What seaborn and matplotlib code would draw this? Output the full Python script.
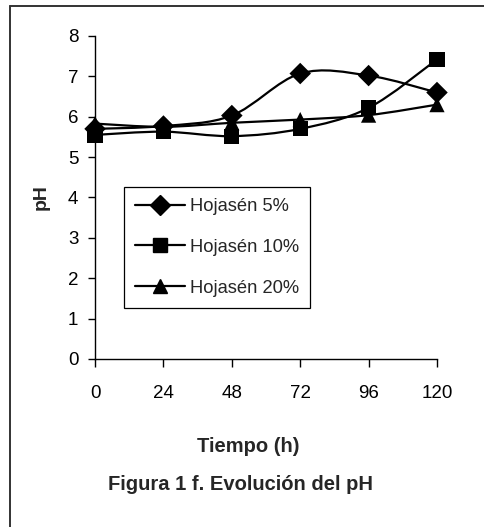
import numpy as np
import pandas as pd
import matplotlib
matplotlib.use("Agg")
import matplotlib.pyplot as plt
from matplotlib.path import Path
from matplotlib.patches import PathPatch
from matplotlib.lines import Line2D
import seaborn as sns

# Sampling times (h) and pH readings for each Hojasén dose
tiempo = [0, 24, 48, 72, 96, 120]
ph_5 = [5.70, 5.77, 6.03, 7.07, 7.02, 6.60]
ph_10 = [5.55, 5.63, 5.52, 5.70, 6.22, 7.42]
ph_20 = [5.83, 5.75, 5.85, 5.93, 6.04, 6.30]
series_names = ["Hojasén 5%", "Hojasén 10%", "Hojasén 20%"]
series_markers = ["D", "s", "^"]
x_ticks = [0, 24, 48, 72, 96, 120]
y_ticks = [0, 1, 2, 3, 4, 5, 6, 7, 8]

df = pd.DataFrame({
    "Tiempo": tiempo * 3,
    "pH": ph_5 + ph_10 + ph_20,
    "Serie": sum([[n] * len(tiempo) for n in series_names], []),
})

sns.set_style("ticks")
plt.rcParams["font.family"] = ["Liberation Sans", "DejaVu Sans"]

fig = plt.figure(figsize=(4.85, 5.27), dpi=100)
ax = fig.add_axes([0.196, 0.3188, 0.705, 0.6129])


def smooth_path(xs, ys):
    """Cubic Bezier path through the points (spreadsheet-style smoothing)."""
    pts = np.column_stack([xs, ys]).astype(float)
    ext = np.vstack([pts[0], pts, pts[-1]])
    verts = [pts[0]]
    codes = [Path.MOVETO]
    for i in range(len(pts) - 1):
        p0, p1, p2, p3 = ext[i], ext[i + 1], ext[i + 2], ext[i + 3]
        c1 = p1 + (p2 - p0) / 6.0
        c2 = p2 - (p3 - p1) / 6.0
        verts += [c1, c2, p2]
        codes += [Path.CURVE4] * 3
    return Path(verts, codes)


for name in series_names:
    sub = df[df["Serie"] == name]
    ax.add_patch(PathPatch(smooth_path(sub["Tiempo"], sub["pH"]),
                           facecolor="none", edgecolor="black", lw=1.6,
                           zorder=2))

sns.scatterplot(data=df, x="Tiempo", y="pH", style="Serie",
                markers=dict(zip(series_names, series_markers)),
                color="black", s=120, edgecolor="black", linewidth=0,
                legend=False, ax=ax, zorder=3, clip_on=False)

ax.set_xlim(0, 120)
ax.set_ylim(0, 8)
ax.set_xticks(x_ticks)
ax.set_yticks(y_ticks)
ax.tick_params(axis="x", direction="out", length=6, width=1, pad=13,
               labelsize=13.5, colors="black")
ax.tick_params(axis="y", direction="out", length=5, width=1, pad=7,
               labelsize=13.5, colors="black")
for side in ("top", "right"):
    ax.spines[side].set_visible(False)
for side in ("left", "bottom"):
    ax.spines[side].set_color("black")
    ax.spines[side].set_linewidth(1)

ax.set_xlabel("")
ax.set_ylabel("pH", fontsize=14, fontweight="bold", labelpad=13)

fig.text(0.512, 1 - 447 / 527, "Tiempo (h)", ha="center", va="center",
         fontsize=14.5, fontweight="bold")
fig.text(0.495, 1 - 485 / 527, "Figura 1 f. Evolución del pH",
         ha="center", va="center", fontsize=14.5, fontweight="bold")

handles = [Line2D([], [], color="black", lw=1.6, marker=m, markersize=10,
                  markerfacecolor="black", markeredgecolor="black")
           for m in series_markers]
leg = ax.legend(handles, series_names, loc="upper left",
                bbox_to_anchor=((124 - 95) / 342, (359 - 187) / 323),
                bbox_transform=ax.transAxes,
                fontsize=13.2, frameon=True, fancybox=False, framealpha=1,
                edgecolor="black", handlelength=2.75, handletextpad=0.25,
                labelspacing=1.3, borderpad=0.6, borderaxespad=0)
leg.get_frame().set_linewidth(0.9)

# Page frame around the figure
fig.add_artist(Line2D([10 / 485, 10 / 485], [0, 1 - 6 / 527],
                      transform=fig.transFigure, color="#333333", lw=1.4))
fig.add_artist(Line2D([10 / 485, 1], [1 - 6 / 527, 1 - 6 / 527],
                      transform=fig.transFigure, color="#333333", lw=1.4))

fig.savefig("out.png", dpi=100)
